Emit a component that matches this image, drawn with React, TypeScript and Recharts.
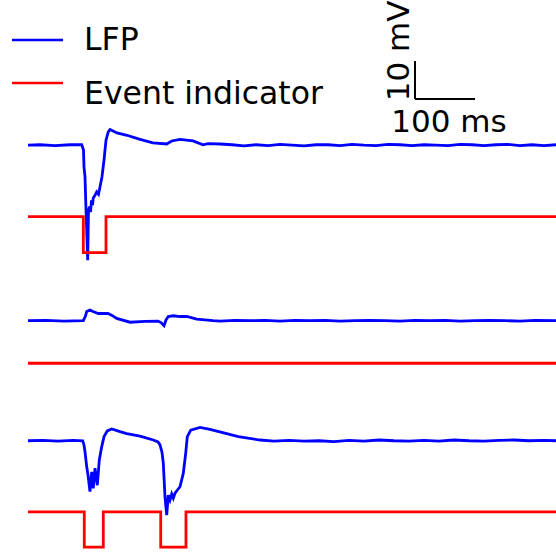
import React from "react";
import { LineChart, Line, XAxis, YAxis, ReferenceLine } from "recharts";

// time in ms from trace start, LFP in mV relative to each trace's baseline
const lfpTrial1: [number, number][] = [
  [0, 0], [20, 0.1], [45, -0.1], [70, 0.1], [89.5, 0.1], [92.5, -1.3], [93.3, -5.7],
  [95, -8.3], [96.7, -17.1], [99.5, -30.3], [100.8, -17.1], [102.5, -16.2],
  [104.2, -17.6], [105.8, -14.5], [107.5, -15.8], [108.8, -13.9], [111.7, -13.2],
  [114.5, -12.3], [117.5, -12.9], [120, -11], [123.3, -8.3], [126.7, -3.9], [130, 1.3],
  [133.8, 3.5], [136.7, 4.1], [148.3, 3.2], [165, 2.6], [186.7, 1.5], [208.3, 0.6],
  [231.2, 0.3], [239.5, 1.1], [253.3, 1.5], [275, 1.1], [291.7, 0.1], [300, 0.4],
  [320, 0.3], [340, 0.1], [360, -0.2], [380, 0.1], [400, -0.1], [420, 0.2], [440, 0],
  [460, -0.2], [480, 0.1], [500, 0.1], [520, -0.1], [540, 0.2], [560, 0], [580, -0.1],
  [600, 0.2], [620, 0.1], [640, -0.1], [660, 0.1], [680, 0], [700, -0.1], [720, 0.2],
  [740, 0.1], [760, -0.1], [780, 0.1], [800, 0.2], [820, -0.1], [840, 0.1], [860, -0.1],
  [880, 0.1],
];

const lfpTrial2: [number, number][] = [
  [0, 0], [30, 0.1], [60, -0.1], [92.2, 0], [95.8, 1.2], [97.8, 2.4], [103.3, 2.8],
  [108.3, 2.4], [117.2, 1.9], [133.3, 1.9], [140, 1.4], [147.8, 0.6], [170, -0.4],
  [195, -0.2], [216.7, -0.1], [221.7, -0.5], [226.7, -1.3], [230, 0.2], [233.8, 1.1],
  [242.2, 1.3], [253.3, 1.1], [264.5, 1.1], [281.2, 0.4], [308.3, 0], [320, -0.1],
  [345, 0.1], [370, 0], [395, 0.1], [420, -0.1], [445, 0.1], [470, 0], [495, 0.1],
  [520, -0.1], [545, 0], [570, 0.1], [595, 0], [620, -0.1], [645, 0.1], [670, 0],
  [695, 0.1], [720, -0.1], [745, 0], [770, 0.1], [795, 0], [820, -0.1], [845, 0.1],
  [880, 0],
];

const lfpTrial3: [number, number][] = [
  [0, 0], [25, 0.1], [50, -0.1], [75, 0.1], [91.2, 0], [93.3, -1.1], [95, -2.9],
  [97.8, -6.8], [100, -9], [103.3, -13.4], [106.2, -8.2], [108.8, -12.5], [111.7, -7.2],
  [115.5, -11.7], [118.8, -5.1], [122.8, -1.6], [126.7, 1.1], [132.2, 2.6], [139.5, 3.1],
  [153.3, 2.4], [164.5, 1.9], [186.7, 1.2], [208.8, 0.2], [216.7, -0.3], [220, -1.1],
  [223.3, -3], [225.5, -5.9], [228.3, -14.7], [231.2, -19.6], [233.8, -14.3],
  [236.7, -15.6], [239.5, -14], [242.2, -15.1], [245, -13.8], [253.3, -12.1],
  [258.8, -8.6], [262.8, -3.3], [265.5, 1.1], [271.2, 2.8], [286.7, 3.5], [303.3, 3],
  [331.2, 1.9], [350.5, 1.1], [386.7, 0.2], [410, -0.1], [435, 0.1], [460, -0.1],
  [485, 0], [510, -0.2], [535, 0.1], [560, -0.1], [585, 0.2], [610, 0], [635, -0.1],
  [660, 0.1], [685, -0.1], [710, 0.2], [735, 0], [760, -0.1], [785, 0.1], [810, 0.2],
  [835, 0], [860, 0.1], [880, 0],
];

// event on/off times (ms) for each trial
const events1: [number, number][] = [[92.2, 130]];
const events2: [number, number][] = [];
const events3: [number, number][] = [[93.8, 125.5], [221.2, 263.3]];

const eventDepth = [9.5, 9.5, 9.3];
const traceEnd = 880;

// vertical stacking (mV) of each trial's LFP and indicator
const lfpOffsets = [-38.2, -84.4, -116.0];
const eventOffsets = [-57.0, -95.6, -134.7];

const scaleBarMs = 100;
const scaleBarMv = 10;
const scaleBarAt = { t: 645, y: -26.05 };

const legendItems = [
  { name: "LFP", color: "#0000ff" },
  { name: "Event indicator", color: "#ff0000" },
];

const toLfp = (pts: [number, number][], off: number) =>
  pts.map(([t, v]) => ({ t, y: off + v }));

function toEvents(ev: [number, number][], off: number, depth: number) {
  const rows = [{ t: 0, y: off }];
  ev.forEach(([on, offT]) => {
    rows.push({ t: on, y: off - depth });
    rows.push({ t: offT, y: off });
  });
  rows.push({ t: traceEnd, y: off });
  return rows;
}

const lfpData = [lfpTrial1, lfpTrial2, lfpTrial3].map((p, i) => toLfp(p, lfpOffsets[i]));
const eventData = [events1, events2, events3].map((e, i) =>
  toEvents(e, eventOffsets[i], eventDepth[i])
);

const FONT = "DejaVu Sans";

const LegendBox = () => (
  <svg
    width={340}
    height={115}
    style={{ position: "absolute", left: 0, top: 0, pointerEvents: "none" }}
  >
    {legendItems.map((p, i) => (
      <g key={p.name}>
        <line x1={12} x2={63} y1={40 + i * 43} y2={40 + i * 43} stroke={p.color} strokeWidth={2.5} />
        <text x={84} y={50 + i * 53.5} fontFamily={FONT} fontSize={31.5} fill="#000">
          {p.name}
        </text>
      </g>
    ))}
  </svg>
);

export default function App() {
  return (
    <div style={{ position: "absolute", left: 0, top: 0, width: 556, height: 554 }}>
      <LineChart width={556} height={554} margin={{ top: 0, right: 0, bottom: 0, left: 0 }}>
        <XAxis dataKey="t" type="number" domain={[-46.67, traceEnd]} hide allowDataOverflow />
        <YAxis type="number" domain={[-145.8, 0]} hide allowDataOverflow />
        {lfpData.map((d, i) => (
          <Line
            key={"lfp" + i}
            data={d}
            dataKey="y"
            name="LFP"
            stroke="#0000ff"
            strokeWidth={2.8}
            dot={false}
            activeDot={false}
            type="linear"
            isAnimationActive={false}
          />
        ))}
        {eventData.map((d, i) => (
          <Line
            key={"ev" + i}
            data={d}
            dataKey="y"
            name="Event indicator"
            stroke="#ff0000"
            strokeWidth={2.8}
            dot={false}
            activeDot={false}
            type="stepAfter"
            isAnimationActive={false}
          />
        ))}
        <ReferenceLine
          segment={[
            { x: scaleBarAt.t, y: scaleBarAt.y },
            { x: scaleBarAt.t, y: scaleBarAt.y + scaleBarMv },
          ]}
          stroke="#000"
          strokeWidth={2}
          label={{
            content: ({ viewBox }: any) => {
              const x = viewBox.x - 6;
              const y = viewBox.y + viewBox.height / 2 - 29;
              return (
                <text
                  x={x}
                  y={y}
                  transform={`rotate(-90, ${x}, ${y})`}
                  textAnchor="middle"
                  fontFamily={FONT}
                  fontSize={31}
                  fill="#000"
                >
                  {scaleBarMv} mV
                </text>
              );
            },
          }}
        />
        <ReferenceLine
          segment={[
            { x: scaleBarAt.t, y: scaleBarAt.y },
            { x: scaleBarAt.t + scaleBarMs, y: scaleBarAt.y },
          ]}
          stroke="#000"
          strokeWidth={2}
          label={{
            content: ({ viewBox }: any) => (
              <text
                x={viewBox.x + viewBox.width / 2 + 4}
                y={viewBox.y + 33}
                textAnchor="middle"
                fontFamily={FONT}
                fontSize={31}
                fill="#000"
              >
                {scaleBarMs} ms
              </text>
            ),
          }}
        />
      </LineChart>
      <LegendBox />
    </div>
  );
}
